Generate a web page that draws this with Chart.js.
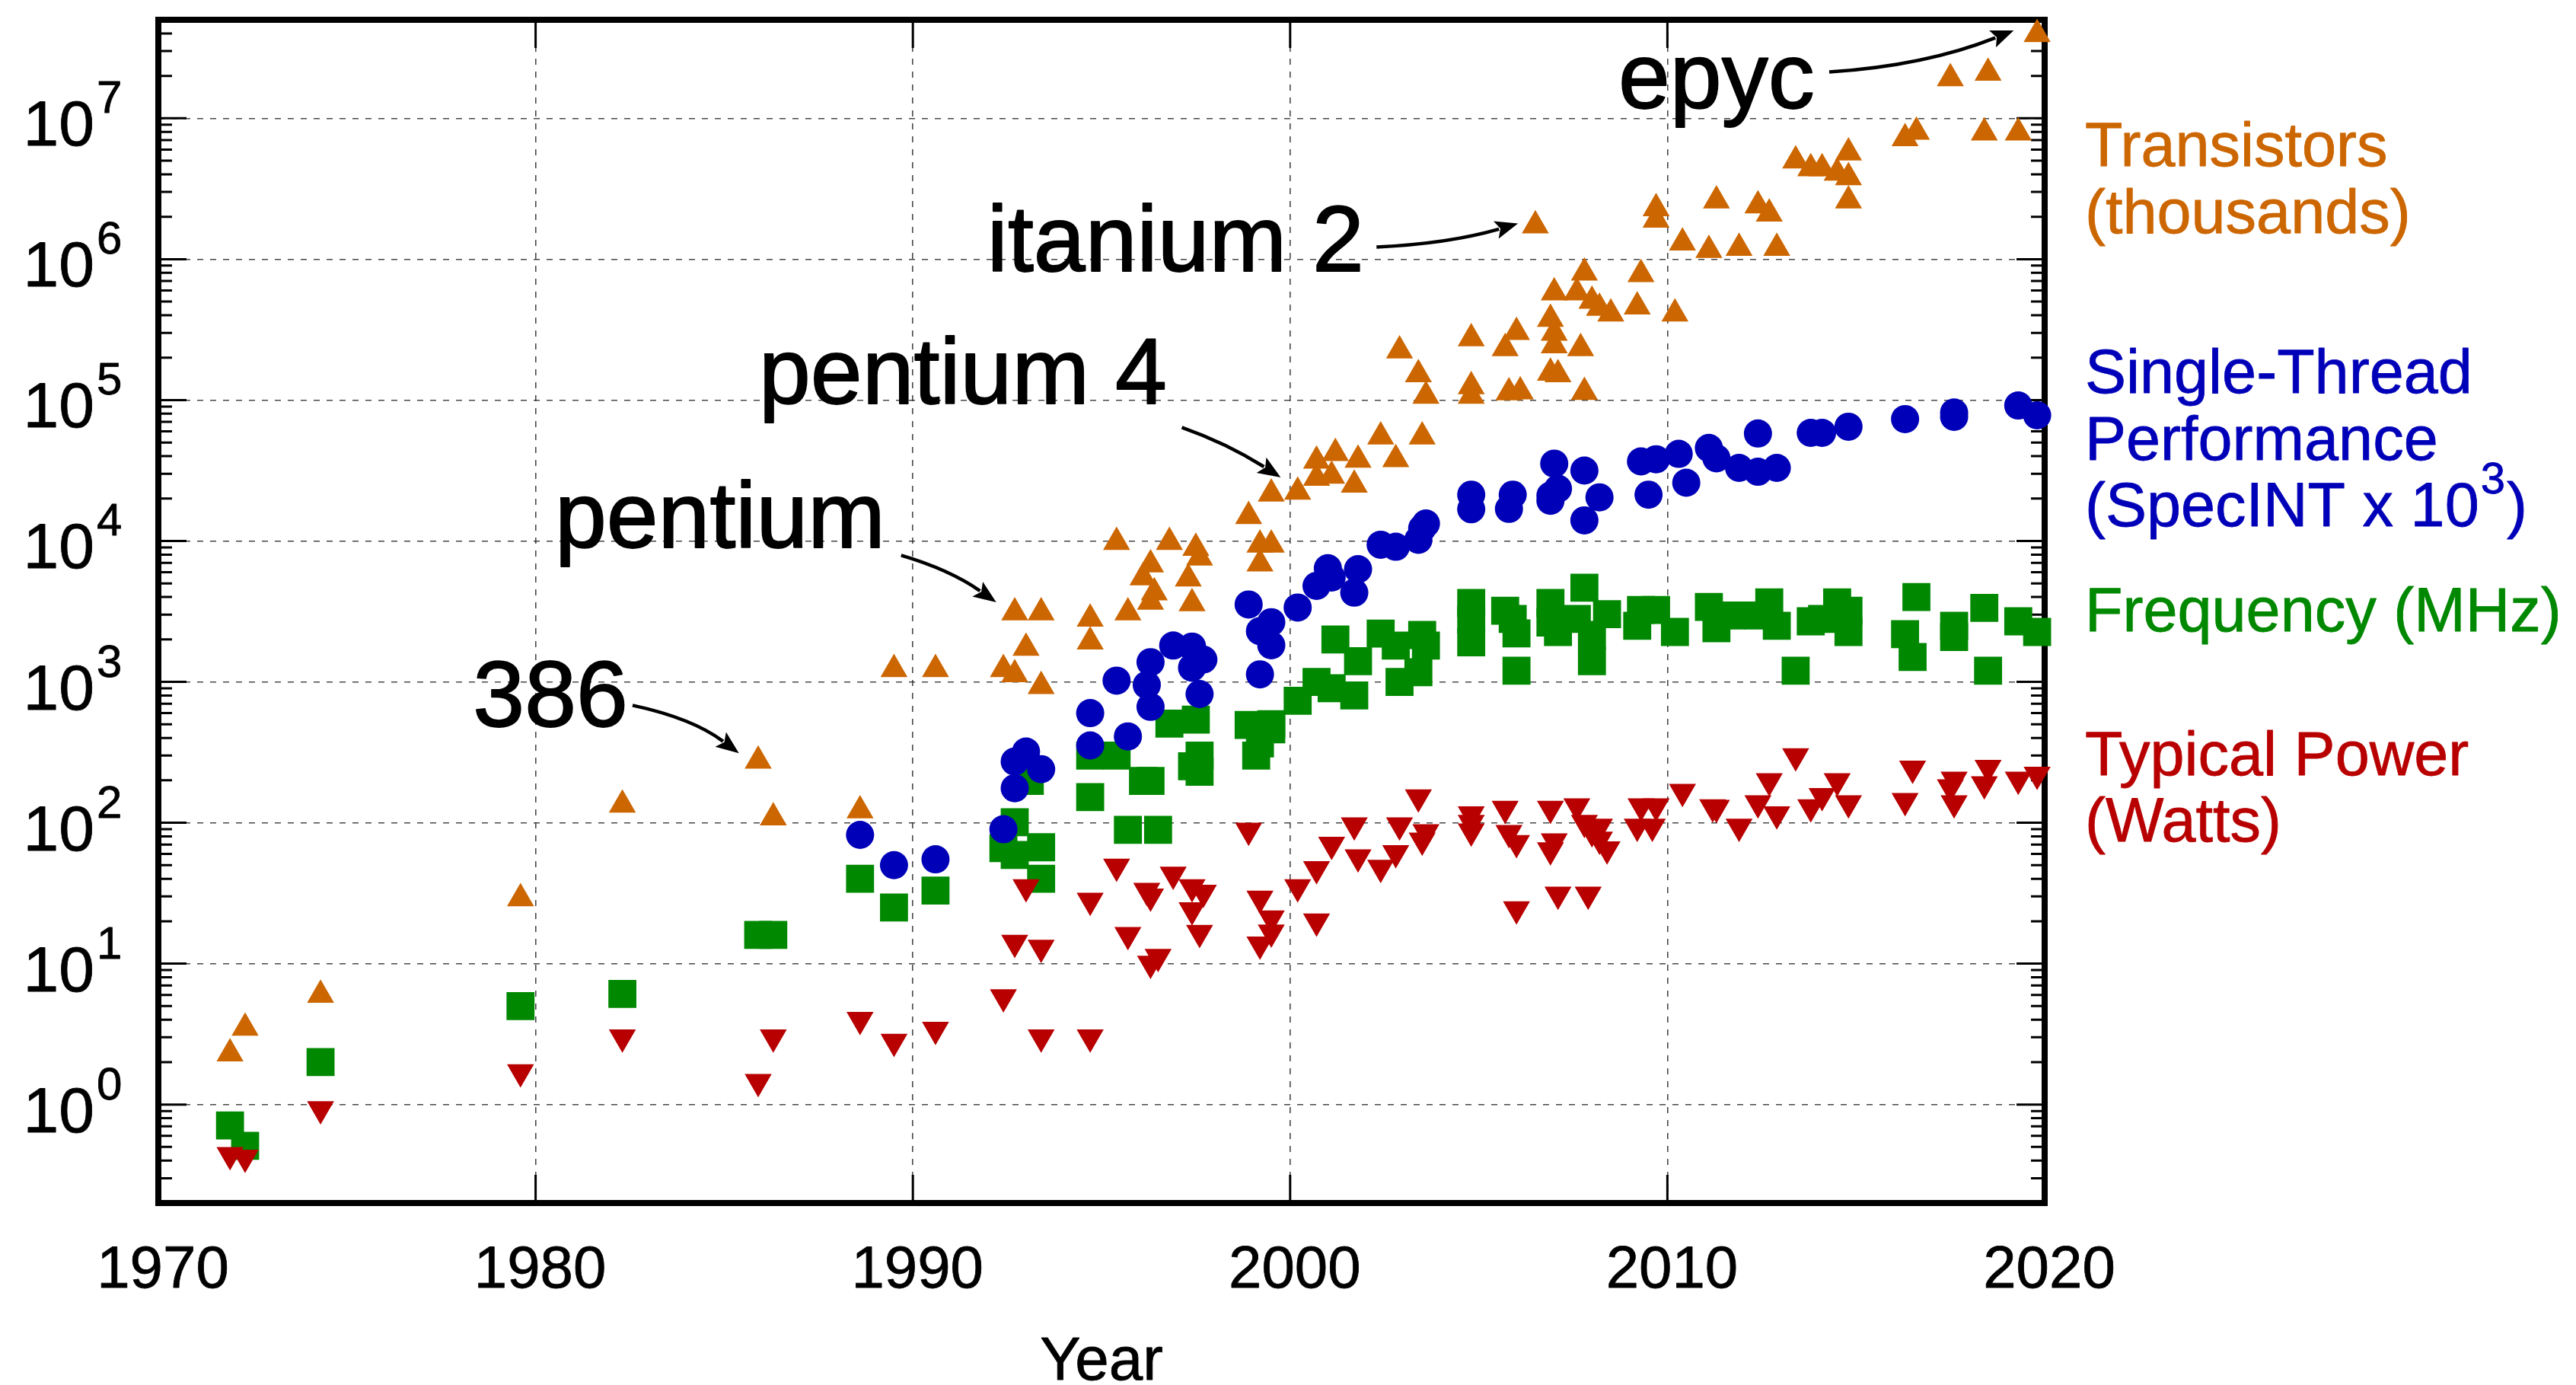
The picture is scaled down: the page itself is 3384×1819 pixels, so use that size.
<!DOCTYPE html>
<html><head><meta charset="utf-8">
<script src="https://cdn.jsdelivr.net/npm/chart.js@4.4.1/dist/chart.umd.min.js"></script>
<style>html,body{margin:0;padding:0;background:#fff;overflow:hidden}canvas{display:block}</style>
</head><body>
<canvas id="c" width="3384" height="1819"></canvas>
<script>
// ---------- DATA (year, value) ----------
const transistors = [
 [1971.9,2.3],[1972.3,3.5],[1974.3,6],[1979.6,29],[1982.3,134],[1985.9,275],[1986.3,109],[1988.6,122],
 [1989.5,1230],[1990.6,1230],[1992.4,1230],[1992.7,3100],[1992.7,1130],[1993.0,1740],[1993.4,3100],[1993.4,930],
 [1994.7,2800],[1994.7,1930],[1995.4,9800],[1995.7,3100],[1996.1,5500],[1996.3,6800],[1996.3,3700],[1996.4,4300],
 [1996.8,9800],[1997.3,5400],[1997.4,3600],[1997.5,8900],[1997.6,7600],[1998.9,15000],[1999.2,9400],[1999.2,6900],
 [1999.5,9400],[1999.5,21600],[2000.2,22300],[2000.7,37000],[2000.7,28000],[2001.1,29000],[2001.2,42000],[2001.7,25000],
 [2001.8,37600],[2002.4,55000],[2002.8,38000],[2002.9,224000],[2003.4,152000],[2003.5,55000],[2003.6,107000],
 [2004.8,274000],[2004.8,125000],[2004.8,107000],[2005.7,233000],[2005.8,113000],[2006.0,303000],[2006.1,115000],
 [2006.5,1730000],[2006.9,376000],[2006.9,156000],[2007.0,580000],[2007.0,300000],[2007.0,244000],[2007.1,152000],
 [2007.6,580000],[2007.7,233000],[2007.8,800000],[2007.8,114000],[2008.0,505000],[2008.2,450000],[2008.5,410000],
 [2009.2,460000],[2009.3,780000],[2009.7,2290000],[2009.7,1900000],[2010.2,410000],[2010.4,1310000],[2011.1,1160000],
 [2011.3,2600000],[2011.9,1200000],[2012.4,2400000],[2012.7,2100000],[2012.9,1200000],[2013.4,5000000],[2013.8,4400000],
 [2014.1,4400000],[2014.5,4100000],[2014.8,5700000],[2014.8,3800000],[2014.8,2600000],[2016.3,7200000],[2016.6,8000000],
 [2017.5,19200000],[2018.4,7900000],[2018.5,21000000],[2019.3,7900000],[2019.8,39500000]
];
const singleThread = [
 [1988.6,82],[1989.5,50],[1990.6,55],[1992.4,90],[1992.7,176],[1992.7,272],[1993.0,320],[1993.4,240],
 [1994.7,354],[1994.7,600],[1995.4,1020],[1995.7,410],[1996.2,950],[1996.3,1380],[1996.3,665],[1996.9,1810],
 [1997.4,1780],[1997.4,1260],[1997.6,820],[1997.7,1440],[1998.9,3540],[1999.2,2290],[1999.2,1130],[1999.5,2650],
 [1999.5,1820],[2000.2,3370],[2000.7,4800],[2001.0,6400],[2001.1,5500],[2001.7,4300],[2001.8,6300],[2002.4,9400],
 [2002.8,9100],[2003.4,10200],[2003.5,12300],[2003.6,13300],[2004.8,21300],[2004.8,16800],[2005.8,16900],[2005.9,21300],
 [2006.9,19300],[2006.9,21000],[2007.0,35400],[2007.1,23500],[2007.8,31600],[2007.8,14000],[2008.2,20400],[2009.3,36700],
 [2009.5,21300],[2009.7,38000],[2010.3,41500],[2010.5,25900],[2011.1,45700],[2011.3,38600],[2011.9,33000],[2012.4,57900],
 [2012.4,31000],[2012.9,33000],[2013.8,58500],[2014.1,58500],[2014.8,64700],[2016.3,73300],[2017.6,81600],[2017.6,76000],
 [2019.3,91500],[2019.8,78000]
];
const frequency = [
 [1971.9,0.71],[1972.3,0.51],[1974.3,2.0],[1979.6,5.0],[1982.3,6.1],[1985.9,16],[1986.3,16],[1988.6,40],[1989.5,25],
 [1990.6,33],[1992.4,66],[1992.7,101],[1992.7,59],[1993.1,198],[1993.4,67],[1993.4,40],[1994.7,152],[1994.7,300],
 [1995.4,300],[1995.7,89],[1996.1,198],[1996.3,198],[1996.5,89],[1996.8,505],[1997.4,252],[1997.5,540],[1997.6,230],
 [1997.6,300],[1998.9,495],[1999.1,300],[1999.2,366],[1999.5,500],[1999.5,460],[2000.2,733],[2000.7,1000],[2001.1,900],
 [2001.2,2000],[2001.7,800],[2001.8,1400],[2002.4,2200],[2002.8,1810],[2002.9,1000],[2003.4,1170],[2003.5,2150],
 [2003.6,1810],[2004.8,3630],[2004.8,2760],[2004.8,1910],[2005.7,3200],[2005.9,2800],[2006.0,2210],[2006.0,1200],
 [2006.9,3630],[2006.9,2640],[2007.1,2260],[2007.6,2800],[2007.8,4660],[2008.0,2150],[2008.0,1400],[2008.4,3020],
 [2009.2,2500],[2009.3,3240],[2009.7,3240],[2010.2,2260],[2011.1,3400],[2011.3,2400],[2011.7,2960],[2012.4,2960],
 [2012.7,3670],[2012.9,2500],[2013.4,1200],[2013.8,2690],[2014.1,2800],[2014.5,3670],[2014.8,3200],[2014.8,2260],
 [2016.3,2180],[2016.5,1500],[2016.6,4000],[2017.6,2500],[2017.6,2080],[2018.4,3350],[2018.5,1200],[2019.3,2690],
 [2019.8,2260]
];
const typicalPower = [
 [1971.9,0.44],[1972.3,0.42],[1974.3,0.93],[1979.6,1.7],[1982.3,3.0],[1985.9,1.45],[1986.3,3.0],[1988.6,4.0],
 [1989.5,2.8],[1990.6,3.4],[1992.4,5.8],[1992.7,14.1],[1993.0,35],[1993.4,13],[1993.4,3.0],[1994.7,3.0],[1994.7,28],
 [1995.4,49],[1995.7,16],[1996.2,33],[1996.3,30],[1996.3,10],[1996.5,11.2],[1996.9,43],[1997.4,35],[1997.4,24],
 [1997.6,16.6],[1997.7,32],[1998.9,88],[1999.2,29],[1999.2,13.7],[1999.5,21],[1999.5,16.7],[2000.2,35],[2000.7,47],
 [2000.7,20],[2001.1,70],[2001.7,96],[2001.8,57],[2002.4,48],[2002.8,61],[2002.9,96],[2003.4,152],[2003.5,75],
 [2003.6,86],[2004.8,115],[2004.8,100],[2004.8,87],[2005.7,126],[2005.8,85],[2006.0,72],[2006.0,24.4],[2006.9,126],
 [2006.9,64],[2007.0,74],[2007.1,31],[2007.6,131],[2007.8,100],[2007.9,31],[2008.0,86],[2008.2,94],[2008.2,76],
 [2008.4,65],[2009.2,94],[2009.3,131],[2009.6,94],[2009.7,131],[2010.4,166],[2011.2,129],[2011.3,128],[2011.9,94],
 [2012.4,138],[2012.7,198],[2012.9,115],[2013.4,297],[2013.8,129],[2014.1,155],[2014.5,198],[2014.8,138],[2016.3,143],
 [2016.5,243],[2017.5,179],[2017.6,203],[2017.6,138],[2018.4,188],[2018.5,246],[2019.3,203],[2019.8,220]
];
const xTickYears = [1970, 1980, 1990, 2000, 2010, 2020];
const xTickLabels = ['1970', '1980', '1990', '2000', '2010', '2020'];
const yTickExponents = [0, 1, 2, 3, 4, 5, 6, 7];
const seriesLabels = [
 ['Transistors', '(thousands)'],
 ['Single-Thread', 'Performance', '(SpecINT x 10'],
 ['Frequency (MHz)'],
 ['Typical Power', '(Watts)']
];
const annotationTexts = ['386', 'pentium', 'pentium 4', 'itanium 2', 'epyc'];
// annotation anchors in data units: text [year,value], arrow from / control / to
const annotationAnchors = [
 {text:[1978.34,482],     from:[1982.57,681],     ctrl:[1984.15,552],     to:[1985.39,312]},
 {text:[1980.51,8950],    from:[1989.69,7900],    ctrl:[1990.98,6250],    to:[1992.21,3670]},
 {text:[1985.92,94000],   from:[1997.13,64000],   ctrl:[1998.32,49400],   to:[1999.75,28300]},
 {text:[1991.97,820000],  from:[2002.29,1220000], ctrl:[2004.2,1290000],  to:[2006.04,1790000]},
 {text:[2008.70,11750000],from:[2014.29,21300000],ctrl:[2016.83,23600000],to:[2019.18,42000000]}
];

// ---------- STYLE ----------
const FONT = '"Liberation Sans", Arial, Helvetica, sans-serif';
const COL = {tr:'#cc6600', st:'#0000b8', fr:'#008800', pw:'#b80000'};
const GRID = 'rgba(40,40,40,0.85)';
const toPts = arr => arr.map(p => ({x:p[0], y:p[1]}));

const framePlugin = {
  id:'frame',
  beforeDatasetsDraw(chart){
    const {ctx, chartArea:a, scales:{x, y}} = chart;
    ctx.save();
    ctx.strokeStyle = '#000';
    ctx.lineWidth = 3;
    ctx.beginPath();
    for (let e = -1; e <= 8; e++) {
      for (let m = 1; m <= 9; m++) {
        const v = m * Math.pow(10, e);
        if (v < y.min || v > y.max) continue;
        const py = y.getPixelForValue(v);
        const len = m === 1 ? 37 : 18;
        ctx.moveTo(a.left, py); ctx.lineTo(a.left + len, py);
        ctx.moveTo(a.right, py); ctx.lineTo(a.right - len, py);
      }
    }
    xTickYears.forEach(t => {
      const px = x.getPixelForValue(t);
      ctx.moveTo(px, a.bottom); ctx.lineTo(px, a.bottom - 37);
      ctx.moveTo(px, a.top); ctx.lineTo(px, a.top + 37);
    });
    ctx.stroke();
    ctx.lineWidth = 8;
    ctx.strokeRect(a.left, a.top, a.right - a.left, a.bottom - a.top);
    ctx.restore();
  }
};

function boldText(ctx, s, x, y, sw){
  ctx.fillText(s, x, y);
  if (sw) { ctx.lineWidth = sw; ctx.strokeStyle = ctx.fillStyle; ctx.strokeText(s, x, y); }
}

const textPlugin = {
  id:'texts',
  afterDatasetsDraw(chart){
    const {ctx, chartArea:a, scales:{x, y}} = chart;
    ctx.save();
    ctx.fillStyle = '#000';
    ctx.textBaseline = 'alphabetic';
    ctx.lineJoin = 'round';
    // y tick labels 10^n
    yTickExponents.forEach(e => {
      const py = y.getPixelForValue(Math.pow(10, e));
      ctx.font = '84px ' + FONT; ctx.textAlign = 'right';
      boldText(ctx, '10', 124, py + 36, 0.8);
      ctx.font = '60px ' + FONT; ctx.textAlign = 'left';
      boldText(ctx, String(e), 127, py - 7, 0.8);
    });
    // x tick labels
    ctx.font = '78px ' + FONT; ctx.textAlign = 'center';
    xTickYears.forEach((t, i) => {
      boldText(ctx, xTickLabels[i], x.getPixelForValue(t) + 6, 1691, 0.8);
    });
    // axis title
    ctx.font = '80px ' + FONT;
    boldText(ctx, 'Year', (a.left + a.right) / 2, 1812, 0.8);
    // series labels on right
    ctx.textAlign = 'left';
    ctx.font = '81px ' + FONT;
    const lx = 2739;
    ctx.fillStyle = COL.tr;
    boldText(ctx, seriesLabels[0][0], lx, 218, 0.8);
    boldText(ctx, seriesLabels[0][1], lx, 306, 0.8);
    ctx.fillStyle = COL.st;
    boldText(ctx, seriesLabels[1][0], lx, 516, 0.8);
    boldText(ctx, seriesLabels[1][1], lx, 604, 0.8);
    boldText(ctx, seriesLabels[1][2], lx, 691, 0.8);
    const w = ctx.measureText(seriesLabels[1][2]).width;
    ctx.font = '58px ' + FONT;
    boldText(ctx, '3', lx + w + 2, 648, 0.8);
    const w3 = ctx.measureText('3').width;
    ctx.font = '81px ' + FONT;
    boldText(ctx, ')', lx + w + w3 + 4, 691, 0.8);
    ctx.fillStyle = COL.fr;
    boldText(ctx, seriesLabels[2][0], lx, 829, 0.8);
    ctx.fillStyle = COL.pw;
    boldText(ctx, seriesLabels[3][0], lx, 1018, 0.8);
    boldText(ctx, seriesLabels[3][1], lx, 1105, 0.8);
    // annotations
    ctx.fillStyle = '#000'; ctx.strokeStyle = '#000';
    annotationAnchors.forEach((an, i) => {
      const P = p => [x.getPixelForValue(p[0]), y.getPixelForValue(p[1])];
      const t = P(an.text), s = P(an.from), c = P(an.ctrl), e = P(an.to);
      ctx.font = '122px ' + FONT;
      boldText(ctx, annotationTexts[i], t[0], t[1], 1.8);
      const dx = e[0] - c[0], dy = e[1] - c[1];
      const L = Math.hypot(dx, dy), ux = dx / L, uy = dy / L;
      const hl = 30, hw = 12;
      const bx = e[0] - ux * hl, by = e[1] - uy * hl;
      ctx.lineWidth = 4.5;
      ctx.strokeStyle = '#000';
      ctx.beginPath();
      ctx.moveTo(s[0], s[1]);
      ctx.quadraticCurveTo(c[0], c[1], bx + ux * 4, by + uy * 4);
      ctx.stroke();
      ctx.beginPath();
      ctx.moveTo(e[0], e[1]);
      ctx.lineTo(bx - uy * hw, by + ux * hw);
      ctx.lineTo(bx + ux * 6, by + uy * 6);
      ctx.lineTo(bx + uy * hw, by - ux * hw);
      ctx.closePath();
      ctx.fill();
    });
    ctx.restore();
  }
};

new Chart(document.getElementById('c'), {
  type: 'scatter',
  data: { datasets: [
    {label:'Transistors (thousands)', data: toPts(transistors), pointStyle:'triangle', pointRadius:20.5,
     pointRotation:0, backgroundColor:COL.tr, borderColor:COL.tr, borderWidth:0, clip:false},
    {label:'Single-Thread Performance (SpecINT x 10^3)', data: toPts(singleThread), pointStyle:'circle', pointRadius:18.5,
     backgroundColor:COL.st, borderColor:COL.st, borderWidth:0, clip:false},
    {label:'Typical Power (Watts)', data: toPts(typicalPower), pointStyle:'triangle', pointRadius:20.5,
     pointRotation:180, backgroundColor:COL.pw, borderColor:COL.pw, borderWidth:0, clip:false},
    {label:'Frequency (MHz)', data: toPts(frequency), pointStyle:'rect', pointRadius:26,
     backgroundColor:COL.fr, borderColor:COL.fr, borderWidth:0, clip:false}
  ]},
  options: {
    responsive:false, animation:false, devicePixelRatio:1,
    layout:{padding:{left:208, top:18, right:698, bottom:239}},
    plugins:{legend:{display:false}, tooltip:{enabled:false}},
    elements:{point:{hoverRadius:0}},
    scales:{
      x:{type:'linear', min:1970, max:2020,
         afterBuildTicks: s => { s.ticks = xTickYears.map(v => ({value:v})); },
         ticks:{display:false},
         grid:{color: c => (c.tick && c.tick.value > 1970 && c.tick.value < 2020) ? GRID : 'rgba(0,0,0,0)',
               lineWidth:1.6, drawTicks:false},
         border:{display:false, dash:[8,9]},
         afterFit: s => { s.height = 0; }},
      y:{type:'logarithmic', min:0.2, max:5e7,
         afterBuildTicks: s => { s.ticks = yTickExponents.map(e => ({value:Math.pow(10, e)})); },
         ticks:{display:false},
         grid:{color:GRID, lineWidth:1.6, drawTicks:false},
         border:{display:false, dash:[8,9]},
         afterFit: s => { s.width = 0; }}
    }
  },
  plugins:[framePlugin, textPlugin]
});
</script>
</body></html>
